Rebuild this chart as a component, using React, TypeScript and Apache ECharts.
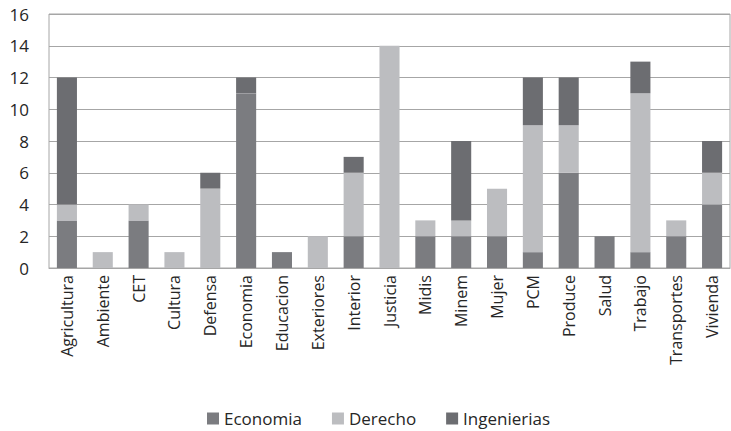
import React, { useEffect, useRef } from "react";
import * as echarts from "echarts";

const categories = [
  "Agricultura", "Ambiente", "CET", "Cultura", "Defensa", "Economia", "Educacion",
  "Exteriores", "Interior", "Justicia", "Midis", "Minem", "Mujer", "PCM", "Produce",
  "Salud", "Trabajo", "Transportes", "Vivienda",
];
const economia = [3, 0, 3, 0, 0, 11, 1, 0, 2, 0, 2, 2, 2, 1, 6, 2, 1, 2, 4];
const derecho = [1, 1, 1, 1, 5, 0, 0, 2, 4, 14, 1, 1, 3, 8, 3, 0, 10, 1, 2];
const ingenierias = [8, 0, 0, 0, 1, 1, 0, 0, 1, 0, 0, 5, 0, 3, 3, 0, 2, 0, 2];
const yTicks = [0, 2, 4, 6, 8, 10, 12, 14, 16];

const FONT = "'Open Sans', 'DejaVu Sans', sans-serif";

export default function App() {
  const ref = useRef<HTMLDivElement>(null);
  useEffect(() => {
    if (!ref.current) return;
    const chart = echarts.init(ref.current, undefined, { renderer: "svg" });
    const mk = (name: string, data: number[], color: string) => ({
      name,
      type: "bar",
      stack: "total",
      data: data.map((v) => (v === 0 ? null : v)),
      barWidth: "56%",
      itemStyle: { color },
    });
    chart.setOption({
      animation: false,
      backgroundColor: "#ffffff",
      textStyle: { fontFamily: FONT },
      grid: {
        left: 49,
        right: 1,
        top: 14,
        bottom: 163,
        show: true,
        borderColor: "#a6a6a6",
        borderWidth: 1,
      },
      legend: {
        top: 405,
        left: 202,
        itemWidth: 12,
        itemHeight: 12,
        itemGap: 30,
        icon: "rect",
        textStyle: { fontSize: 17, color: "#262626", fontFamily: FONT },
        data: ["Economia", "Derecho", "Ingenierias"],
      },
      xAxis: {
        type: "category",
        data: categories,
        axisTick: { show: false },
        axisLine: { lineStyle: { color: "#a6a6a6" } },
        axisLabel: {
          rotate: 90,
          interval: 0,
          fontSize: 16,
          color: "#262626",
          margin: 7,
          fontFamily: FONT,
        },
      },
      yAxis: {
        type: "value",
        min: yTicks[0],
        max: yTicks[yTicks.length - 1],
        interval: 2,
        axisLine: { show: false },
        axisTick: { show: false },
        splitLine: { lineStyle: { color: "#a6a6a6", width: 1 } },
        axisLabel: { fontSize: 17, color: "#262626", margin: 20, fontFamily: FONT },
      },
      series: [
        mk("Economia", economia, "#7b7c80"),
        mk("Derecho", derecho, "#bcbdc0"),
        mk("Ingenierias", ingenierias, "#6c6d71"),
      ],
    });
    return () => chart.dispose();
  }, []);
  return (
    <div
      ref={ref}
      style={{ position: "absolute", left: 0, top: 0, width: 731, height: 431 }}
    />
  );
}
